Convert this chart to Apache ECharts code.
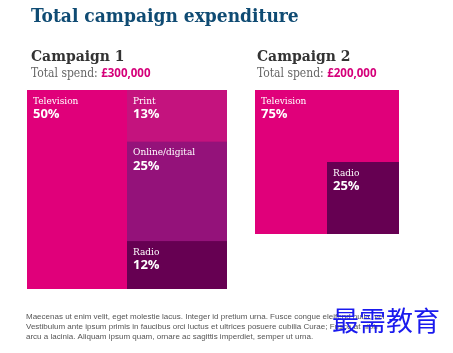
<!DOCTYPE html>
<html>
<head>
<meta charset="utf-8">
<script src="https://cdn.jsdelivr.net/npm/echarts@6/dist/echarts.min.js"></script>
<style>
  html, body { margin: 0; padding: 0; background: #fff; }
  #chart { width: 453px; height: 353px; }
</style>
</head>
<body>
<div id="chart"></div>
<script>
// campaign data
const c1Names = ['Television', 'Print', 'Online/digital', 'Radio'];
const c1Values = [50, 13, 25, 12];
const c1Colors = ['#e0007a', '#c4137e', '#94127a', '#660052'];
const c1Total = '£300,000';

const c2Names = ['Television', 'Radio'];
const c2Values = [75, 25];
const c2Colors = ['#e0007a', '#660052'];
const c2Total = '£200,000';

const footerLines = [
  'Maecenas ut enim velit, eget molestie lacus. Integer id pretium urna. Fusce congue eleifend nulla, vel',
  'Vestibulum ante ipsum primis in faucibus orci luctus et ultrices posuere cubilia Curae; Fusce at nibh',
  'arcu a lacinia. Aliquam ipsum quam, ornare ac sagittis imperdiet, semper ut urna.'
];

const serif = "'DejaVu Serif Condensed', 'DejaVu Serif', serif";

function leaf(name, value, share, color, showLabel) {
  return {
    name: name,
    value: value,
    share: share,
    itemStyle: { color: color, borderColor: color },
    label: { show: showLabel !== false }
  };
}

// campaign 1: television on the left, the rest stacked on the right
const c1Data = [
  leaf(c1Names[0], c1Values[0], c1Values[0], c1Colors[0]),
  {
    name: 'rest',
    value: c1Values[1] + c1Values[2] + c1Values[3],
    itemStyle: { borderColor: c1Colors[2] },
    children: [1, 2, 3].map(i => leaf(c1Names[i], c1Values[i], c1Values[i], c1Colors[i]))
  }
];

// campaign 2: television wraps around radio (split into two same-coloured pieces)
const c2Data = [
  leaf(c2Names[0], c2Values[0] - c2Values[1], c2Values[0], c2Colors[0]),
  {
    name: 'rest',
    value: c2Values[1] * 2,
    itemStyle: { borderColor: c2Colors[0] },
    children: [
      leaf(c2Names[0], c2Values[1], c2Values[0], c2Colors[0], false),
      leaf(c2Names[1], c2Values[1], c2Values[1], c2Colors[1])
    ]
  }
];

function treemap(data, left, top, w, h, bg) {
  return {
    type: 'treemap',
    left: left, top: top, width: w, height: h,
    roam: false,
    nodeClick: false,
    sort: false,
    squareRatio: 1,
    breadcrumb: { show: false },
    animation: false,
    itemStyle: { borderWidth: 0, gapWidth: 0, borderColor: bg },
    upperLabel: { show: false },
    label: {
      show: true,
      position: 'insideTopLeft',
      padding: [5, 6],
      formatter: p => '{n|' + p.name + '}\n{p|' + p.data.share + '%}',
      rich: {
        n: { fontFamily: serif, fontSize: 10, color: '#fff', lineHeight: 12 },
        p: { fontFamily: 'Open Sans, sans-serif', fontWeight: 'bold', fontSize: 13, color: '#fff', lineHeight: 15 }
      }
    },
    emphasis: { disabled: true },
    data: data
  };
}

function spendTitle(left, name, total) {
  return [
    {
      text: name, left: left, top: 47, padding: 0,
      textStyle: { fontFamily: serif, fontWeight: 'bold', fontSize: 15.5, color: '#333', lineHeight: 20 }
    },
    {
      text: '{a|Total spend: }{b|' + total + '}', left: left, top: 67, padding: 0,
      textStyle: {
        rich: {
          a: { fontFamily: serif, fontWeight: 'normal', fontSize: 12, color: '#666', lineHeight: 14 },
          b: { fontFamily: 'Open Sans, sans-serif', fontWeight: 'bold', fontSize: 11.5, color: '#d5007a', lineHeight: 14 }
        }
      }
    }
  ];
}

const chart = echarts.init(document.getElementById('chart'));
chart.setOption({
  backgroundColor: '#fff',
  title: [
    {
      text: 'Total campaign expenditure', left: 31, top: 5, padding: 0,
      textStyle: { fontFamily: serif, fontWeight: 'bold', fontSize: 19, color: '#0f4b73', lineHeight: 24 }
    },
    ...spendTitle(31, 'Campaign 1', c1Total),
    ...spendTitle(257, 'Campaign 2', c2Total),
    {
      text: footerLines.join('\n'), left: 26, top: 312, padding: 0,
      textStyle: { fontFamily: 'Liberation Sans, Arial, sans-serif', fontSize: 8, color: '#555', lineHeight: 10, fontWeight: 'normal' }
    },
    {
      text: '最需教育', left: 332, top: 305, padding: 0,
      textStyle: { fontFamily: 'Noto Sans CJK SC', fontSize: 27, color: '#1a1aee', fontWeight: 'normal', lineHeight: 32 }
    }
  ],
  series: [
    treemap(c1Data, 27, 90, 200, 199, c1Colors[0]),
    treemap(c2Data, 255, 90, 144, 143.9, c2Colors[0])
  ]
});
</script>
</body>
</html>
